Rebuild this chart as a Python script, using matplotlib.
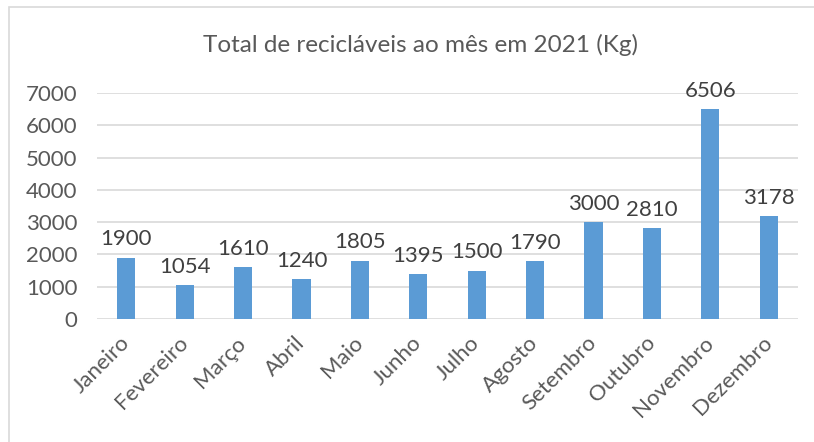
import matplotlib.pyplot as plt
from matplotlib.patches import Rectangle

# monthly recyclables 2021 (kg)
meses = ['Janeiro', 'Fevereiro', 'Março', 'Abril', 'Maio', 'Junho',
         'Julho', 'Agosto', 'Setembro', 'Outubro', 'Novembro', 'Dezembro']
total_kg = [1900, 1054, 1610, 1240, 1805, 1395, 1500, 1790, 3000, 2810, 6506, 3178]
yticks = [0, 1000, 2000, 3000, 4000, 5000, 6000, 7000]

plt.rcParams['font.family'] = ['Lato', 'DejaVu Sans']
txt = '#595959'
fs = 16

W, H = 814, 442
fig = plt.figure(figsize=(W / 100, H / 100), dpi=100)
ax = fig.add_axes([97 / W, (H - 319) / H, (798 - 97) / W, 226 / H])

# chart border (Excel chart area)
fig.patches.append(Rectangle((9 / W, -0.1), 1.1, (H - 7) / H + 0.1, transform=fig.transFigure,
                             fill=False, edgecolor='#D9D9D9', linewidth=1.2))

x = range(len(meses))
bars = ax.bar(x, total_kg, width=0.31, color='#5B9BD5', zorder=3)
ax.bar_label(bars, labels=[str(v) for v in total_kg], padding=6, fontsize=fs, color='#404040')

ax.set_xlim(-0.5, len(meses) - 0.5)
ax.set_ylim(0, 7000)
ax.set_yticks(yticks)
ax.set_yticklabels([str(t) for t in yticks], fontsize=fs, color=txt)
ax.set_xticks(list(x))
ax.set_xticklabels(meses, rotation=45, ha='right', va='center', rotation_mode='anchor',
                   fontsize=fs, color=txt)
ax.tick_params(axis='both', length=0)
ax.tick_params(axis='y', pad=14)
ax.tick_params(axis='x', pad=15)
ax.grid(axis='y', color='#D9D9D9', linewidth=1.2, zorder=0)
for s in ax.spines.values():
    s.set_visible(False)

fig.text(420 / W, (H - 45) / H, 'Total de recicláveis ao mês em 2021 (Kg)', ha='center', va='center',
         fontsize=17.5, color=txt)

fig.savefig('out.png', dpi=100)
